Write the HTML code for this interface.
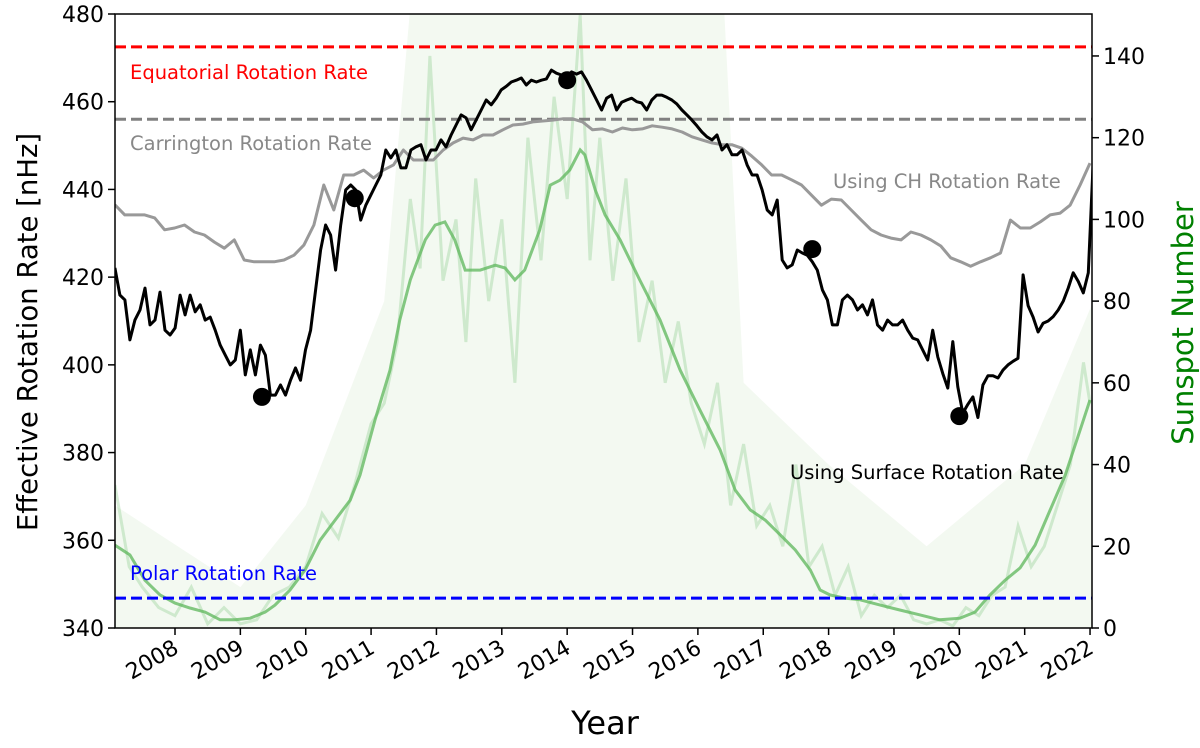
<!DOCTYPE html>
<html><head><meta charset="utf-8"><style>
html,body{margin:0;padding:0;background:#fff;}
svg{display:block;font-family:"DejaVu Sans","Liberation Sans",sans-serif;}
</style></head><body>
<svg id="chart" width="1200" height="748" viewBox="0 0 1200 748" xmlns="http://www.w3.org/2000/svg">
<defs><clipPath id="clip"><rect x="115" y="14" width="977" height="614"/></clipPath></defs>
<g id="plot" clip-path="url(#clip)"></g>
<g id="axes"></g>
</svg>
<script>
// ---- data ----
const blackStart = 2007.08, blackEnd = 2022.05;
const surfaceRate = [422.1,415.9,414.8,405.7,410.2,412.5,417.5,409.1,410.2,416.6,407.9,406.8,408.4,415.9,411.4,415.9,412.1,413.7,410.2,410.9,407.9,404.5,402.2,400.0,401.1,407.9,397.7,403.4,397.7,404.5,402.2,393.1,393.1,395.4,393.1,396.5,399.3,396.5,403.4,407.9,417.1,426.2,431.9,429.6,421.6,431.9,439.9,441.0,439.9,433.0,436.4,438.7,441.0,443.3,449.0,447.2,449.0,444.9,444.9,449.0,449.7,450.2,446.7,449.0,449.0,451.3,449.7,452.4,454.7,457.0,456.3,453.6,455.8,458.1,460.4,459.3,460.8,462.7,463.5,464.5,464.9,465.4,463.8,464.9,464.5,464.9,465.2,467.2,466.5,466.1,465.4,466.8,466.3,466.8,464.9,462.7,460.4,458.1,460.8,461.5,458.1,459.9,460.4,460.8,460.0,459.7,458.1,460.4,461.5,461.5,461.0,460.4,459.5,458.1,457.0,455.8,454.5,453.1,452.0,451.3,452.4,449.0,450.2,447.9,447.9,449.0,445.6,443.3,443.3,439.9,435.3,434.2,437.6,423.9,422.1,422.8,426.2,425.5,425.0,423.5,421.6,417.1,414.8,409.1,409.1,414.8,415.9,414.8,412.5,413.7,411.4,414.8,409.1,407.9,410.2,409.1,409.1,410.2,407.9,406.1,405.7,403.4,401.1,407.9,401.8,398.0,394.7,405.3,395.0,389.0,391.0,392.7,388.0,395.4,397.5,397.5,397.0,398.8,400.0,400.8,401.5,420.5,413.5,410.9,407.5,409.5,410.0,411.0,412.5,414.5,417.5,421.0,419.0,416.4,421.0,446.7];
const chStart = 2007.08, chEnd = 2022.0;
const chRate = [436.5,434.2,434.2,434.2,433.5,430.8,431.2,431.9,430.3,429.6,428.0,426.6,428.5,423.9,423.5,423.5,423.5,423.9,425.0,427.3,431.9,441.0,435.3,443.3,443.3,444.4,442.6,444.4,445.6,449.0,446.7,446.7,446.7,449.0,450.6,451.7,451.3,452.4,452.4,453.6,454.7,454.9,455.4,455.6,455.8,456.1,456.1,455.4,453.6,453.8,453.1,454.0,453.6,453.8,454.5,454.2,453.8,453.1,452.0,451.3,450.6,450.2,450.2,449.4,447.6,445.6,443.3,443.3,442.2,441.0,438.7,436.4,437.8,437.6,435.3,433.0,430.8,429.6,428.9,428.5,430.3,429.6,428.5,427.1,424.4,423.5,422.5,423.5,424.4,425.5,433.0,431.2,431.2,432.6,434.2,434.6,436.4,441.0,446.0];
const markerYears = [2009.33, 2010.75, 2014.0, 2017.75, 2020.0];
const markerRates = [392.7, 438.0, 464.9, 426.4, 388.3];
const smoothYears = [2007.08,2007.31,2007.54,2007.77,2008.0,2008.23,2008.46,2008.69,2008.92,2009.15,2009.38,2009.53,2009.76,2009.99,2010.22,2010.45,2010.68,2010.83,2011.06,2011.29,2011.44,2011.60,2011.83,2011.98,2012.13,2012.28,2012.44,2012.67,2012.90,2013.05,2013.20,2013.35,2013.58,2013.74,2013.89,2014.04,2014.20,2014.27,2014.43,2014.58,2014.81,2015.11,2015.42,2015.73,2016.03,2016.34,2016.57,2016.80,2017.03,2017.26,2017.49,2017.72,2017.87,2018.02,2018.25,2018.48,2018.79,2019.09,2019.40,2019.70,2020.01,2020.24,2020.47,2020.70,2020.93,2021.16,2021.39,2021.62,2021.85,2022.0];
const smoothSunspots = [20.3,17.9,11.7,8.1,6.1,4.9,3.9,2.0,2.0,2.4,3.9,5.6,9.3,14.2,21.5,26.4,31.3,37.4,50.9,63.1,75.4,85.2,95.0,98.6,99.4,95.0,87.6,87.6,88.8,88.1,85.2,87.6,97.4,108.4,109.6,112.1,117.0,115.8,107.2,101.1,95.0,85.2,75.4,63.1,53.4,43.6,33.8,28.9,26.4,22.8,19.1,14.2,9.3,8.1,7.3,6.9,5.6,4.4,3.2,2.0,2.4,3.9,8.1,11.7,14.7,20.3,28.9,37.4,48.5,55.8];
const monthlyYears = [2007.08,2007.3,2007.5,2007.75,2008,2008.25,2008.5,2008.75,2009,2009.25,2009.5,2009.75,2010,2010.25,2010.5,2010.75,2011,2011.2,2011.4,2011.6,2011.75,2011.9,2012.1,2012.3,2012.45,2012.6,2012.8,2013.0,2013.2,2013.4,2013.6,2013.8,2014.0,2014.2,2014.35,2014.5,2014.7,2014.9,2015.1,2015.3,2015.5,2015.7,2015.9,2016.1,2016.3,2016.5,2016.7,2016.9,2017.1,2017.3,2017.5,2017.7,2017.9,2018.1,2018.3,2018.5,2018.7,2018.9,2019.1,2019.3,2019.5,2019.7,2019.9,2020.1,2020.3,2020.5,2020.7,2020.9,2021.1,2021.3,2021.5,2021.7,2021.9,2022.0];
const monthlySunspots = [35,15,10,5,3,10,1,5,1,2,8,10,15,28,22,35,50,55,70,105,88,140,85,100,70,110,80,100,60,120,90,130,105,150,90,120,85,110,70,85,60,75,55,45,60,30,45,25,30,20,40,15,20,8,15,3,8,5,8,2,1,2,0.5,5,3,8,10,25,15,20,30,40,65,55];
const dailyYears = [2007.08,2009,2010.0,2011.2,2011.6,2016.4,2016.7,2018,2019.5,2021,2022.05];
const dailyUpper = [30,10,30,80,152,152,60,40,20,40,80];
const leftTicks = [340,360,380,400,420,440,460,480];
const rightTicks = [0,20,40,60,80,100,120,140];
const yearTicks = [2008,2009,2010,2011,2012,2013,2014,2015,2016,2017,2018,2019,2020,2021,2022];
const refRates = [472.5, 456.0, 346.8];

// ---- scales ----
const X0=115,X1=1092,Y0=14,Y1=628;
const xs = yr => 175 + (yr-2008)*65.36;
const yL = v => Y1 - (v-340)*(Y1-Y0)/140;
const yR = v => Y1 - v*4.086;
const NS="http://www.w3.org/2000/svg";
const plot=document.getElementById('plot'), axes=document.getElementById('axes');
function mk(tag,attrs,parent){const e=document.createElementNS(NS,tag);for(const k in attrs)e.setAttribute(k,attrs[k]);parent.appendChild(e);return e;}
function spread(arr,a,b){return arr.map((_,i)=>a+i*(b-a)/(arr.length-1));}
function pts(xsArr,ys,yf){return xsArr.map((t,i)=>xs(t).toFixed(1)+','+yf(ys[i]).toFixed(1)).join(' ');}

let d='M'+xs(dailyYears[0])+','+Y1+' L'+pts(dailyYears,dailyUpper,yR).replace(/ /g,' L')+' L'+xs(dailyYears[dailyYears.length-1])+','+Y1+'Z';
let el=mk('path',{d:d,fill:'#f3f9f1',stroke:'none'},plot);


el=mk('polyline',{points:pts(monthlyYears,monthlySunspots,yR),fill:'none',stroke:'#7cc47a','stroke-opacity':0.3,'stroke-width':3},plot);


el=mk('polyline',{points:pts(smoothYears,smoothSunspots,yR),fill:'none',stroke:'#5cb55a','stroke-opacity':0.75,'stroke-width':3},plot);



const refColors=['#ff0000','#808080','#0000ff'];
const refNames=['equatorial-rate-line','carrington-rate-line','polar-rate-line'];
refRates.forEach((v,i)=>{const l=mk('line',{x1:X0,x2:X1,y1:yL(v),y2:yL(v),stroke:refColors[i],'stroke-width':3,'stroke-dasharray':'11,5'},plot);

});

el=mk('polyline',{points:pts(spread(chRate,chStart,chEnd),chRate,yL),fill:'none',stroke:'#999','stroke-width':3,'stroke-linejoin':'round'},plot);


el=mk('polyline',{points:pts(spread(surfaceRate,blackStart,blackEnd),surfaceRate,yL),fill:'none',stroke:'#000','stroke-width':3,'stroke-linejoin':'round'},plot);


markerYears.forEach((t,i)=>{const c=mk('circle',{cx:xs(t),cy:yL(markerRates[i]),r:9,fill:'#000'},plot);

});

function txt(s,x,y,attrs,name){const t=mk('text',Object.assign({x:x,y:y},attrs),axes);t.textContent=s;

return t;}
txt('Equatorial Rotation Rate',130,79,{fill:'#ff0000','font-size':19.5},'equatorial-label');
txt('Carrington Rotation Rate',130,150,{fill:'#888','font-size':19.5},'carrington-label');
txt('Polar Rotation Rate',130,580,{fill:'#0000ff','font-size':19.5},'polar-label');
txt('Using CH Rotation Rate',833,188,{fill:'#888','font-size':19.5},'ch-label');
txt('Using Surface Rotation Rate',790,479,{fill:'#000','font-size':19.5},'surface-label');

el=mk('rect',{x:X0,y:Y0,width:X1-X0,height:Y1-Y0,fill:'none',stroke:'#000','stroke-width':1.5},axes);


leftTicks.forEach(v=>{mk('line',{x1:X0-7,x2:X0,y1:yL(v),y2:yL(v),stroke:'#000','stroke-width':1.5},axes);
txt(String(v),X0-11,yL(v)+8,{'font-size':22,'text-anchor':'end'},'left-tick-label');});
rightTicks.forEach(v=>{mk('line',{x1:X1,x2:X1+7,y1:yR(v),y2:yR(v),stroke:'#000','stroke-width':1.5},axes);
txt(String(v),X1+11,yR(v)+8,{'font-size':22},'right-tick-label');});
yearTicks.forEach(v=>{const x=xs(v);mk('line',{x1:x,x2:x,y1:Y1,y2:Y1+7,stroke:'#000','stroke-width':1.5},axes);
txt(String(v),x+5,Y1+24,{'font-size':22,'text-anchor':'end',transform:'rotate(-30 '+(x+5)+' '+(Y1+24)+')'},'x-tick-label');});
txt('Year',605,734,{'font-size':32,'text-anchor':'middle'},'x-axis-title');
txt('Effective Rotation Rate [nHz]',37,332,{'font-size':27.5,'text-anchor':'middle',transform:'rotate(-90 37 332)'},'left-axis-title');
txt('Sunspot Number',1193,323,{'font-size':29,'text-anchor':'middle',fill:'#008000',transform:'rotate(-90 1193 323)'},'right-axis-title');
</script>
</body></html>
